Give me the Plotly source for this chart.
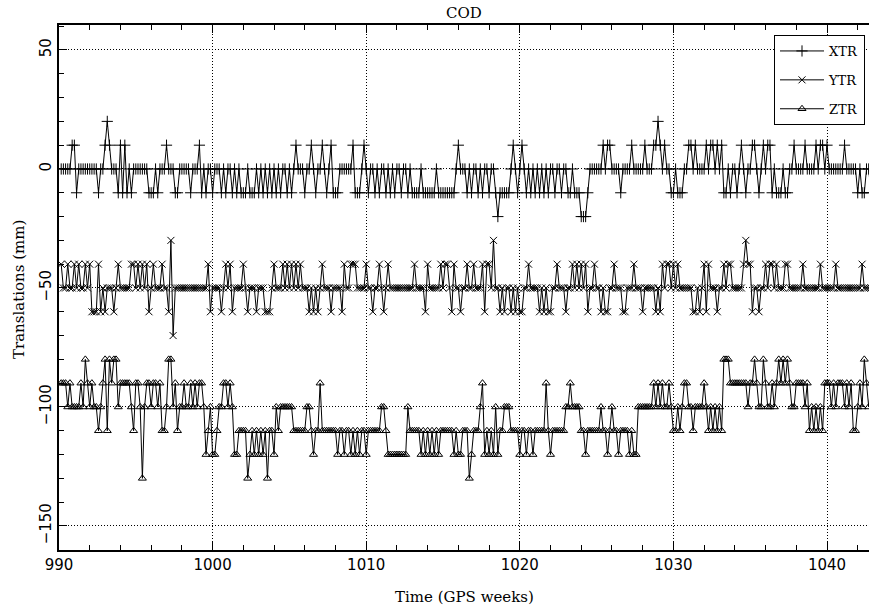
import plotly.graph_objects as go

# Daily solutions, first day = GPS week 990 day 1
start_week = 990 + 1 / 7
n_days = 370
weeks = [start_week + d / 7 for d in range(n_days)]

xtr = [
    0, 0, 0, 0, 0, 10, 10, -10, 0, 0,
    0, 0, 0, 0, 0, 0, 0, -10, 0, 0,
    10, 20, 10, 0, 0, 0, -10, 10, -10, 10,
    -10, 0, -10, 0, 0, 0, 0, 0, 0, 0,
    -10, -10, -10, 0, -10, 0, 0, 0, 10, 0,
    0, 0, -10, -10, 0, 0, 0, 0, 0, -10,
    0, 0, 0, 10, -10, 0, -10, 0, 0, -10,
    0, 0, 0, -10, 0, -10, 0, 0, -10, 0,
    -10, 0, -10, -10, -10, 0, -10, -10, -10, 0,
    -10, 0, -10, 0, -10, 0, -10, 0, -10, 0,
    -10, 0, 0, -10, 0, -10, 0, 10, 0, 0,
    0, -10, 0, 0, 10, 0, -10, 0, 0, 10,
    0, -10, 0, 10, -10, -10, -10, 0, 0, 0,
    0, 0, 0, 10, -10, -10, -10, 0, 10, 0,
    -10, 0, 0, -10, 0, -10, 0, 0, -10, 0,
    -10, 0, -10, 0, 0, -10, 0, 0, -10, 0,
    -10, -10, -10, -10, 0, -10, -10, -10, -10, -10,
    -10, 0, -10, -10, -10, -10, -10, -10, -10, -10,
    0, 10, 0, 0, 0, -10, 0, -10, 0, 0,
    -10, 0, -10, 0, 0, -10, 0, 0, -10, -20,
    -10, -10, -10, -10, -10, 0, 10, 0, -10, 0,
    10, 0, -10, 0, -10, 0, -10, 0, -10, 0,
    -10, 0, -10, 0, 0, -10, 0, 0, -10, 0,
    0, -10, -10, 0, -10, -10, -10, -20, -20, -20,
    -10, 0, 0, 0, 0, 0, 0, 10, 0, 10,
    10, 0, 0, 0, 0, -10, 0, 0, 0, 0,
    10, 0, 0, 0, 0, 0, 10, 0, 0, 0,
    10, 10, 20, 10, 0, 10, 0, 0, -10, -10,
    0, -10, -10, -10, 0, 0, 10, 10, 0, 10,
    0, 0, 0, 0, 10, 0, 10, 10, 0, 10,
    0, 10, -10, -10, 0, -10, 0, 0, -10, 0,
    10, 0, -10, 0, 0, 10, 10, 0, -10, 0,
    10, 0, 10, 10, -10, 0, -10, -10, -10, 0,
    -10, -10, 0, 0, 10, 0, 0, 0, 0, 10,
    0, 0, 0, 0, 10, 0, 10, 10, 0, 10,
    0, 0, 0, 0, 0, 0, 0, 10, 0, 0,
    0, 0, 0, -10, 0, -10, -10, 0, 0, -10,
]

ytr = [
    -40, -50, -50, -40, -50, -50, -40, -50, -40, -50,
    -50, -40, -50, -40, -60, -60, -60, -40, -60, -50,
    -60, -50, -50, -50, -60, -50, -40, -50, -50, -50,
    -50, -50, -40, -40, -50, -40, -50, -40, -50, -40,
    -60, -50, -40, -50, -50, -50, -40, -50, -50, -60,
    -30, -70, -50, -50, -50, -50, -50, -50, -50, -50,
    -50, -50, -50, -50, -50, -50, -50, -40, -60, -50,
    -50, -50, -50, -60, -50, -40, -50, -40, -60, -50,
    -50, -50, -50, -40, -50, -60, -50, -50, -50, -60,
    -50, -50, -50, -60, -60, -60, -50, -40, -50, -50,
    -50, -40, -50, -40, -50, -40, -50, -40, -50, -40,
    -50, -50, -50, -60, -50, -60, -50, -60, -50, -40,
    -50, -50, -50, -60, -50, -50, -50, -50, -60, -40,
    -50, -50, -40, -40, -40, -50, -50, -50, -50, -40,
    -50, -50, -60, -50, -50, -40, -50, -60, -50, -40,
    -50, -50, -50, -50, -50, -50, -50, -50, -50, -50,
    -50, -40, -50, -50, -50, -50, -60, -40, -50, -50,
    -50, -50, -50, -40, -50, -40, -40, -50, -60, -40,
    -50, -50, -60, -50, -50, -40, -50, -50, -40, -50,
    -50, -50, -40, -60, -40, -40, -50, -30, -50, -50,
    -60, -50, -60, -50, -50, -60, -50, -60, -50, -60,
    -60, -50, -50, -40, -50, -50, -50, -50, -60, -50,
    -60, -50, -60, -60, -50, -50, -40, -50, -50, -50,
    -60, -50, -50, -40, -50, -40, -50, -40, -50, -40,
    -60, -50, -50, -40, -50, -50, -60, -50, -60, -60,
    -50, -50, -40, -50, -50, -50, -60, -60, -50, -50,
    -50, -40, -50, -50, -50, -60, -50, -50, -50, -50,
    -50, -60, -50, -60, -40, -50, -40, -40, -50, -40,
    -50, -40, -50, -50, -50, -50, -50, -50, -60, -60,
    -50, -60, -50, -40, -60, -40, -50, -50, -50, -60,
    -50, -50, -40, -50, -40, -40, -50, -50, -50, -50,
    -50, -40, -30, -40, -40, -60, -50, -50, -60, -50,
    -50, -40, -50, -40, -40, -50, -40, -50, -50, -50,
    -40, -40, -50, -50, -50, -50, -50, -50, -40, -50,
    -50, -50, -50, -50, -50, -50, -40, -50, -50, -50,
    -50, -50, -50, -40, -50, -50, -50, -50, -50, -50,
    -50, -50, -50, -50, -50, -40, -50, -50, -50, -50,
]

ztr = [
    -90, -90, -90, -100, -90, -100, -100, -100, -100, -90,
    -100, -80, -90, -100, -90, -100, -100, -110, -100, -90,
    -80, -110, -80, -90, -80, -80, -100, -90, -90, -90,
    -90, -90, -100, -110, -90, -90, -100, -130, -100, -90,
    -90, -100, -90, -90, -100, -90, -110, -110, -100, -80,
    -80, -100, -90, -110, -100, -100, -90, -100, -100, -90,
    -100, -90, -100, -90, -90, -100, -120, -110, -100, -120,
    -120, -110, -100, -100, -90, -90, -100, -90, -100, -120,
    -120, -110, -110, -110, -110, -130, -120, -110, -120, -110,
    -120, -110, -120, -110, -130, -110, -110, -120, -100, -110,
    -100, -100, -100, -100, -100, -100, -110, -110, -110, -110,
    -110, -110, -100, -100, -110, -120, -110, -110, -90, -110,
    -110, -110, -110, -110, -110, -110, -120, -110, -110, -120,
    -110, -110, -120, -110, -120, -110, -120, -110, -110, -120,
    -110, -110, -110, -110, -110, -110, -100, -100, -110, -120,
    -120, -120, -120, -120, -120, -120, -120, -120, -100, -110,
    -110, -110, -110, -110, -120, -110, -120, -110, -120, -110,
    -120, -110, -120, -110, -110, -110, -110, -110, -110, -120,
    -110, -120, -120, -110, -110, -110, -130, -120, -110, -110,
    -110, -100, -90, -120, -110, -120, -110, -120, -100, -120,
    -110, -110, -100, -100, -100, -110, -110, -110, -110, -120,
    -110, -110, -120, -110, -110, -120, -110, -110, -110, -110,
    -110, -90, -110, -120, -110, -110, -110, -110, -110, -110,
    -100, -100, -90, -100, -100, -100, -100, -110, -110, -120,
    -110, -110, -110, -110, -110, -110, -100, -110, -110, -120,
    -110, -100, -110, -110, -120, -110, -110, -110, -110, -120,
    -110, -120, -120, -100, -100, -100, -100, -100, -100, -100,
    -90, -100, -90, -100, -90, -100, -100, -90, -100, -110,
    -110, -100, -110, -100, -90, -90, -100, -100, -110, -100,
    -100, -100, -100, -90, -100, -110, -100, -110, -100, -110,
    -100, -110, -80, -80, -80, -90, -90, -90, -90, -90,
    -90, -90, -90, -100, -90, -90, -80, -90, -100, -100,
    -80, -90, -100, -100, -90, -100, -90, -80, -90, -80,
    -90, -80, -90, -100, -100, -90, -90, -90, -90, -100,
    -90, -110, -100, -110, -100, -110, -100, -110, -90, -90,
    -90, -100, -90, -100, -90, -90, -90, -100, -90, -100,
    -90, -110, -110, -100, -90, -100, -80, -90, -100, -90,
]

series_names = ["XTR", "YTR", "ZTR"]
series_values = [xtr, ytr, ztr]
series_symbols = ["cross-thin", "x-thin", "triangle-up-open"]
series_sizes = [8, 7, 7]

fig = go.Figure()
for name, vals, sym, sz in zip(series_names, series_values, series_symbols, series_sizes):
    fig.add_trace(go.Scatter(
        x=weeks, y=vals, name=name, mode="lines+markers", legendgroup=name,
        line=dict(color="black", width=1),
        marker=dict(symbol=sym, size=sz, color="black",
                    line=dict(color="black", width=1)),
        cliponaxis=True,
    ))

W, H = 869, 611
ml, mr, mt, mb = 59, 0, 25, 61
grid_dash = "1px,2px"

fig.update_layout(
    width=W, height=H,
    margin=dict(l=ml, r=mr, t=mt, b=mb, pad=0),
    paper_bgcolor="white", plot_bgcolor="white",
    font=dict(family="DejaVu Sans", color="black", size=15),
    title=dict(text="COD", x=0.5, xref="paper", y=1 - 13 / H, yref="container",
               xanchor="center", yanchor="middle",
               font=dict(family="DejaVu Serif", size=15, color="black")),
    showlegend=True,
    legend=dict(
        x=(774 - ml) / (W - ml - mr), y=(H - mb - 35) / (H - mt - mb),
        xanchor="left", yanchor="top",
        bgcolor="white", bordercolor="black", borderwidth=1,
        font=dict(family="DejaVu Serif", size=13, color="black"),
        tracegroupgap=9, itemwidth=44,
    ),
    xaxis=dict(
        range=[990, 990 + (W - ml - mr) / 15.36],
        tickmode="linear", tick0=990, dtick=10,
        ticks="inside", ticklen=8, tickwidth=1, tickcolor="black",
        minor=dict(dtick=2, tick0=990, ticks="inside", ticklen=5,
                   tickcolor="black", showgrid=False),
        showgrid=True, gridcolor="black", gridwidth=1, griddash=grid_dash,
        showline=True, linecolor="black", linewidth=1.5, mirror="ticks",
        zeroline=False,
        tickfont=dict(family="DejaVu Sans", size=15),
    ),
    yaxis=dict(
        range=[-160.1, 60.5],
        tickmode="linear", tick0=0, dtick=50,
        ticks="inside", ticklen=8, tickwidth=1, tickcolor="black",
        minor=dict(dtick=10, tick0=0, ticks="inside", ticklen=5,
                   tickcolor="black", showgrid=False),
        showgrid=True, gridcolor="black", gridwidth=1, griddash=grid_dash,
        showline=True, linecolor="black", linewidth=1.5, mirror=False,
        zeroline=False, tickangle=-90,
        tickfont=dict(family="DejaVu Sans", size=15),
    ),
)

fig.add_annotation(text="Time (GPS weeks)", xref="paper", yref="paper",
                   x=0.5, y=0, yshift=-47, showarrow=False,
                   xanchor="center", yanchor="middle",
                   font=dict(family="DejaVu Serif", size=15, color="black"))
fig.add_annotation(text="Translations (mm)", xref="paper", yref="paper",
                   x=0, xshift=-40, y=(H - mb - 290) / (H - mt - mb),
                   showarrow=False, textangle=-90,
                   xanchor="center", yanchor="middle",
                   font=dict(family="DejaVu Serif", size=15, color="black"))

fig.write_html("out.html")
